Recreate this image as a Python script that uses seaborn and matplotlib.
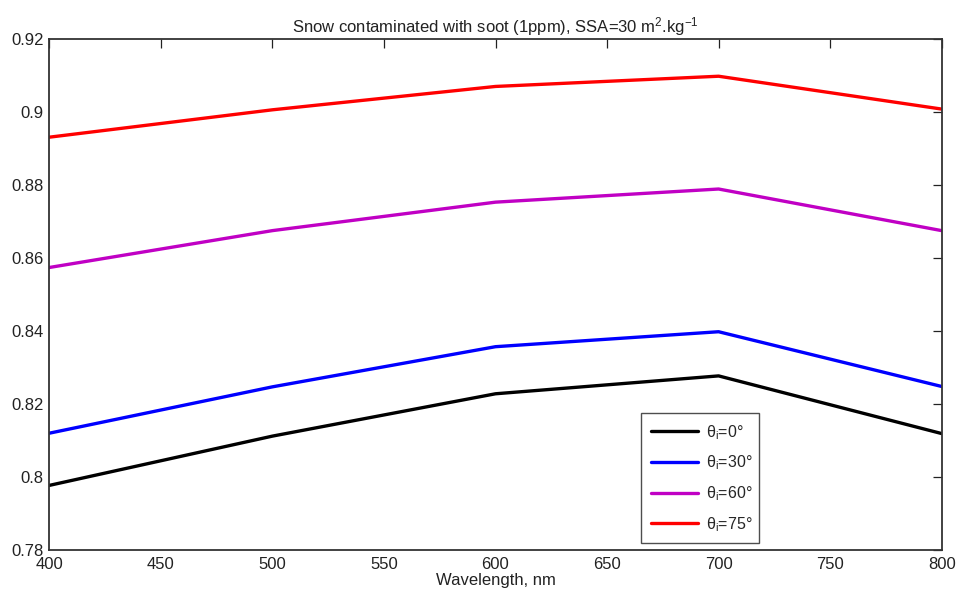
import numpy as np
import pandas as pd
import matplotlib
matplotlib.use("Agg")
import matplotlib.pyplot as plt
import seaborn as sns

# Spectral albedo of soot-contaminated snow for several incidence angles
wavelength = [400, 500, 600, 700, 800]
albedo_0 = [0.7977, 0.8112, 0.8228, 0.8277, 0.8119]
albedo_30 = [0.8120, 0.8247, 0.8357, 0.8398, 0.8248]
albedo_60 = [0.8574, 0.8675, 0.8753, 0.8789, 0.8675]
albedo_75 = [0.8931, 0.9006, 0.9070, 0.9098, 0.9008]

labels = [r"$\theta_\mathregular{i}$=0°", r"$\theta_\mathregular{i}$=30°",
          r"$\theta_\mathregular{i}$=60°", r"$\theta_\mathregular{i}$=75°"]
series = [albedo_0, albedo_30, albedo_60, albedo_75]
colors = ["#000000", "#0000FF", "#C000C4", "#FF0000"]

title = r"Snow contaminated with soot (1ppm), SSA=30 m$^\mathregular{2}$.kg$^\mathregular{-1}$"
xlabel = "Wavelength, nm"

df = pd.concat(
    [pd.DataFrame({"wavelength": wavelength, "albedo": vals, "angle": lab})
     for vals, lab in zip(series, labels)],
    ignore_index=True,
)

sns.set_theme(style="white")
plt.rcParams["font.family"] = ["Liberation Sans", "DejaVu Sans"]
plt.rcParams["mathtext.fontset"] = "custom"
plt.rcParams["mathtext.rm"] = "Liberation Sans"
plt.rcParams["mathtext.it"] = "Liberation Sans:italic"
plt.rcParams["mathtext.default"] = "regular"

fig = plt.figure(figsize=(9.61, 5.96), dpi=100)
ax = fig.add_axes([49.3 / 961, 1 - 550 / 596, 892.4 / 961, 511 / 596])

sns.lineplot(data=df, x="wavelength", y="albedo", hue="angle",
             palette=dict(zip(labels, colors)), hue_order=labels,
             linewidth=2.4, ax=ax, sort=False)

ax.set_xlim(400, 800)
ax.set_ylim(0.78, 0.92)
ax.set_xticks(np.arange(400, 801, 50))
ax.set_yticks(np.arange(0.78, 0.9201, 0.02))
ax.set_yticklabels(["0.78", "0.8", "0.82", "0.84", "0.86", "0.88", "0.9", "0.92"])
ax.tick_params(direction="in", length=6.5, width=0.9, top=True, right=True,
               labelsize=12, colors="#222222", pad=4)
ax.tick_params(axis="x", pad=5)
for s in ax.spines.values():
    s.set_color("#333333")
    s.set_linewidth(1.3)

ax.set_xlabel(xlabel, fontsize=12, color="#222222", labelpad=1)
ax.set_ylabel("")
ax.set_title(title, fontsize=12, color="#222222", pad=5)

leg = ax.legend(loc="lower left", bbox_to_anchor=(0.663, 0.013, 0.1326, 0.2635),
                mode="expand", fontsize=11.5, frameon=True, fancybox=False,
                handlelength=3.0, handletextpad=0.5, labelspacing=0.75,
                borderpad=0.6, borderaxespad=0)
leg.get_frame().set_edgecolor("#222222")
leg.get_frame().set_linewidth(1.0)
for line in leg.get_lines():
    line.set_linewidth(2.4)

fig.savefig("out.png", dpi=100, facecolor="white")
